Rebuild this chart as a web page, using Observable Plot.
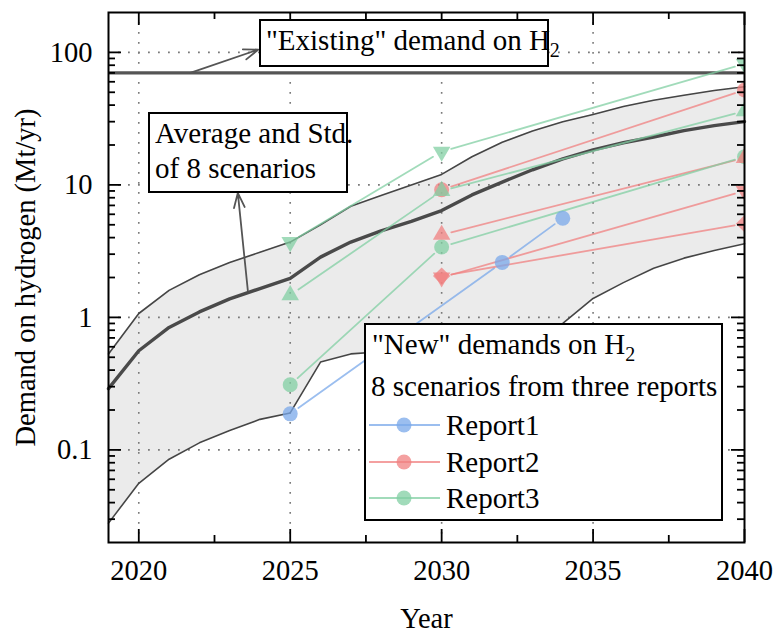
<!DOCTYPE html>
<html>
<head>
<meta charset="utf-8">
<script src="https://cdn.jsdelivr.net/npm/d3@7"></script>
<script src="https://cdn.jsdelivr.net/npm/@observablehq/plot@0.6"></script>
<style>
  html, body { margin: 0; padding: 0; background: #fff; }
  #chart { position: relative; width: 776px; height: 632px; }
</style>
</head>
<body>
<div id="chart"></div>
<script>
// ---- data ----
const years = [2019, 2020, 2021, 2022, 2023, 2024, 2025, 2026, 2027, 2028, 2029, 2030,
               2031, 2032, 2033, 2034, 2035, 2036, 2037, 2038, 2039, 2040];
const meanVals  = [0.29, 0.56, 0.84, 1.1, 1.38, 1.65, 1.97, 2.85, 3.7, 4.5, 5.3, 6.4,
                   8.4, 10.5, 13, 15.7, 18.4, 20.8, 23, 25.7, 28, 30];
const upperVals = [0.53, 1.07, 1.6, 2.1, 2.6, 3.1, 3.7, 5.0, 6.9, 8.3, 10, 12,
                   16.3, 21, 25.5, 30, 34, 39, 43.5, 47.5, 51.5, 55];
const lowerVals = [0.028, 0.056, 0.085, 0.113, 0.14, 0.17, 0.19, 0.46, 0.53, 0.55, 0.57, 0.6,
                   0.63, 0.67, 0.72, 0.9, 1.39, 1.83, 2.35, 2.8, 3.2, 3.6];
const existingDemand = 70;

const reportNames  = ["Report1", "Report2", "Report3"];
const reportColors = ["#7aa8ea", "#f08080", "#82cfa3"];

// scenarios
const r1Years  = [2025, 2032, 2034];  const r1Vals  = [0.187, 2.6, 5.6];
const r2aYears = [2030, 2040];        const r2aVals = [9.2, 52];
const r2bYears = [2030, 2040];        const r2bVals = [4.2, 16];
const r2cYears = [2030, 2040];        const r2cVals = [2.0, 9];
const r2dYears = [2030, 2040];        const r2dVals = [2.05, 5.1];
const r3aYears = [2025, 2030, 2040];  const r3aVals = [3.7, 17.8, 82];
const r3bYears = [2025, 2030, 2040];  const r3bVals = [1.47, 9.0, 36];
const r3cYears = [2025, 2030, 2040];  const r3cVals = [0.31, 3.4, 16.3];

const xTicks = [2020, 2025, 2030, 2035, 2040];
const xMinorTicks = [2022.5, 2027.5, 2032.5, 2037.5];
const yTicks = [0.1, 1, 10, 100];
const yMinorTicks = [0.03, 0.04, 0.05, 0.06, 0.07, 0.08, 0.09,
                     0.2, 0.3, 0.4, 0.5, 0.6, 0.7, 0.8, 0.9,
                     2, 3, 4, 5, 6, 7, 8, 9,
                     20, 30, 40, 50, 60, 70, 80, 90];
const xGrid = [2020, 2025, 2030, 2035];
const yGrid = [0.1, 1, 10, 100];

// annotation arrows (data coordinates)
const annotArrows = [
  {x1: 2021.7, y1: 70, x2: 2023.95, y2: 105},
  {x1: 2023.6, y1: 1.6, x2: 2023.27, y2: 8.7}
];

// ---- tables ----
const band = years.map((yr, i) => ({year: yr, mean: meanVals[i], upper: upperVals[i], lower: lowerVals[i]}));

const triangleDown = {
  draw(context, size) {
    const y = -Math.sqrt(size / (Math.sqrt(3) * 3));
    context.moveTo(0, -2 * y);
    context.lineTo(-Math.sqrt(3) * y, y);
    context.lineTo(Math.sqrt(3) * y, y);
    context.closePath();
  }
};

const scenarios = [
  {report: "Report1", symbol: "circle",   years: r1Years,  values: r1Vals},
  {report: "Report2", symbol: "circle",   years: r2aYears, values: r2aVals},
  {report: "Report2", symbol: "triangle", years: r2bYears, values: r2bVals},
  {report: "Report2", symbol: "tridown",  years: r2cYears, values: r2cVals},
  {report: "Report2", symbol: "diamond",  years: r2dYears, values: r2dVals},
  {report: "Report3", symbol: "tridown",  years: r3aYears, values: r3aVals},
  {report: "Report3", symbol: "triangle", years: r3bYears, values: r3bVals},
  {report: "Report3", symbol: "circle",   years: r3cYears, values: r3cVals}
];
const points = scenarios.flatMap(s => s.years.map((yr, i) => ({report: s.report, symbol: s.symbol, year: yr, value: s.values[i]})));
const segments = scenarios.flatMap(s => s.years.slice(1).map((yr, i) => ({
  report: s.report, x1: s.years[i], y1: s.values[i], x2: yr, y2: s.values[i + 1]
})));

const symbolDefs = {
  circle:   {symbol: "circle", r: 7.5},
  triangle: {symbol: "triangle", r: 6.5},
  tridown:  {symbol: triangleDown, r: 6.5},
  diamond:  {symbol: "diamond2", r: 7.8}
};

const W = 776, H = 632, mL = 108, mR = 32, mT = 12, mB = 90;
const plotW = W - mL - mR, plotH = H - mT - mB;
const font = "Liberation Serif, Times New Roman, serif";

const dotMarks = Object.entries(symbolDefs).map(([key, def]) =>
  Plot.dot(points.filter(d => d.symbol === key), {
    x: "year", y: "value", fill: "report", fillOpacity: 0.75,
    symbol: def.symbol, r: def.r, clip: true
  })
);

const tickStyle = {stroke: "black", strokeWidth: 1.8};

const plot = Plot.plot({
  width: W, height: H,
  marginLeft: mL, marginRight: mR, marginTop: mT, marginBottom: mB,
  style: {fontFamily: font, fontSize: "28.5px", color: "black", background: "white"},
  x: {domain: [2019, 2040]},
  y: {type: "log", domain: [0.02, 200]},
  color: {domain: reportNames, range: reportColors},
  marks: [
    Plot.areaY(band, {x: "year", y1: "lower", y2: "upper", fill: "#ebebeb"}),
    Plot.ruleX(xGrid, {stroke: "#7a7a7a", strokeWidth: 1.6, strokeDasharray: "1.8,8.2"}),
    Plot.ruleY(yGrid, {stroke: "#7a7a7a", strokeWidth: 1.6, strokeDasharray: "1.8,8.2"}),
    Plot.line(band, {x: "year", y: "upper", stroke: "#454545", strokeWidth: 1.6}),
    Plot.line(band, {x: "year", y: "lower", stroke: "#454545", strokeWidth: 1.6}),
    Plot.line(band, {x: "year", y: "mean", stroke: "#4a4a4a", strokeWidth: 3.4}),
    Plot.ruleY([existingDemand], {stroke: "#555", strokeWidth: 3.2}),
    Plot.arrow(segments, {x1: "x1", y1: "y1", x2: "x2", y2: "y2", stroke: "report",
      strokeOpacity: 0.75, strokeWidth: 1.8, headLength: 0, inset: 10, clip: true}),
    ...dotMarks,
    Plot.arrow(annotArrows, {x1: "x1", y1: "y1", x2: "x2", y2: "y2", stroke: "#555",
      strokeWidth: 1.8, headLength: 13, headAngle: 40}),
    // inward ticks on all four sides
    Plot.tickX(xTicks, {...tickStyle, insetBottom: plotH - 13}),
    Plot.tickX(xTicks, {...tickStyle, insetTop: plotH - 13}),
    Plot.tickX(xMinorTicks, {...tickStyle, insetBottom: plotH - 7}),
    Plot.tickX(xMinorTicks, {...tickStyle, insetTop: plotH - 7}),
    Plot.tickY(yTicks, {...tickStyle, insetRight: plotW - 13}),
    Plot.tickY(yTicks, {...tickStyle, insetLeft: plotW - 13}),
    Plot.tickY(yMinorTicks, {...tickStyle, insetRight: plotW - 7}),
    Plot.tickY(yMinorTicks, {...tickStyle, insetLeft: plotW - 7}),
    Plot.axisX({ticks: xTicks, tickSize: 0, tickPadding: 17, tickFormat: d => String(d),
      label: "Year", labelAnchor: "center", labelOffset: 85, labelArrow: "none"}),
    Plot.axisY({ticks: yTicks, tickSize: 0, tickPadding: 16, tickFormat: d => String(d),
      label: "Demand on hydrogen (Mt/yr)", labelAnchor: "center", labelOffset: 94, labelArrow: "none"}),
    Plot.frame({stroke: "black", strokeWidth: 2})
  ]
});

// ---- annotation boxes and legend (drawn on top of the plot) ----
const svg = d3.select(plot);
const g = svg.append("g")
  .attr("font-family", font).attr("font-size", 29)
  .attr("fill", "black").attr("text-anchor", "start");
function box(x, y, w, h) {
  g.append("rect").attr("x", x).attr("y", y).attr("width", w).attr("height", h)
    .attr("fill", "white").attr("stroke", "black").attr("stroke-width", 2);
}
function label(x, y, str, sub) {
  const t = g.append("text").attr("x", x).attr("y", y).attr("text-anchor", "start").text(str);
  if (sub) t.append("tspan").attr("dy", 7).attr("font-size", 20).text(sub);
}
// "Existing" demand box
box(260, 20, 288, 46);
label(266, 50, "\"Existing\" demand on H", "2");
// Average box
box(149, 113, 198, 79);
label(155, 143, "Average and Std.");
label(155, 178, "of 8 scenarios");
// Legend box
box(365, 324, 357, 196);
label(372, 354, "\"New\" demands on H", "2");
label(371, 396, "8 scenarios from three reports");
const legendRows = [425, 462, 498];
reportNames.forEach((name, i) => {
  const cy = legendRows[i];
  g.append("line").attr("x1", 369).attr("x2", 440).attr("y1", cy).attr("y2", cy)
    .attr("stroke", reportColors[i]).attr("stroke-opacity", 0.75).attr("stroke-width", 1.8);
  g.append("circle").attr("cx", 404).attr("cy", cy).attr("r", 7.5)
    .attr("fill", reportColors[i]).attr("fill-opacity", 0.75);
  label(446, cy + 10, name);
});

document.getElementById("chart").appendChild(plot);
</script>
</body>
</html>
